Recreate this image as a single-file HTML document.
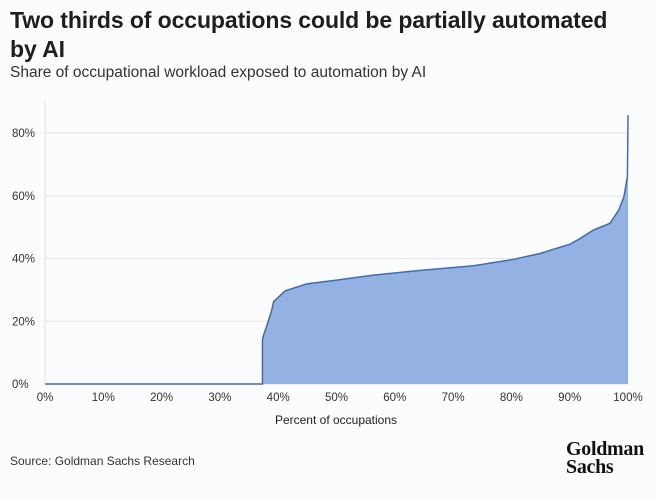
<!DOCTYPE html>
<html><head><meta charset="utf-8"><style>
body{margin:0;width:657px;height:500px;background:#fbfcfd;font-family:"Liberation Sans",sans-serif;overflow:hidden;position:relative}
#title{position:absolute;left:10px;top:6px;font-size:23px;font-weight:bold;color:#1e1e1e;line-height:29px;width:625px;letter-spacing:-0.1px}
#sub{position:absolute;left:10px;top:64px;font-size:15.5px;color:#333}
#src{position:absolute;left:10px;top:454px;font-size:12px;color:#333}
#logo{position:absolute;left:566px;top:440px;font-family:"Liberation Serif",serif;font-weight:bold;font-size:20px;line-height:18px;color:#111;letter-spacing:-0.3px}
svg{position:absolute;left:0;top:0}
</style></head><body>
<div id="title">Two thirds of occupations could be partially automated by AI</div>
<div id="sub">Share of occupational workload exposed to automation by AI</div>
<svg id="chart" width="657" height="500"></svg>
<div id="src">Source: Goldman Sachs Research</div>
<div id="logo">Goldman<br>Sachs</div>
<script>
const xs=[0,37.3,37.3,37.5,38.0,38.9,39.2,41.2,44.9,50.0,56.3,63.7,73.5,80.3,84.9,90.1,91.8,94.1,96.9,98.4,99.3,99.9,100];
const ys=[0,0,14,15.6,18.3,23.6,26.2,29.7,31.9,33.1,34.7,36.1,37.7,39.7,41.6,44.6,46.4,49.1,51.2,55.4,59.7,66.1,85.7];
const yTicks=[0,20,40,60,80];
const xTicks=[0,10,20,30,40,50,60,70,80,90,100];
const NS="http://www.w3.org/2000/svg";
const svg=document.getElementById('chart');
const X=v=>45+v*5.83, Y=v=>384-v*3.1375;
function mk(t,a){const e=document.createElementNS(NS,t);for(const k in a)e.setAttribute(k,a[k]);svg.appendChild(e);return e;}
yTicks.forEach(t=>{
 const l=mk('line',{x1:45,x2:628,y1:Y(t),y2:Y(t),stroke:'#e3e5ea','stroke-width':1});
 
 
 const tx=mk('text',{x:12,y:Y(t)+4,'font-size':11.5,fill:'#333','font-family':'Liberation Sans'});
 tx.textContent=t+'%';
 
 
});
const ax=mk('line',{x1:45,x2:45,y1:100,y2:384,stroke:'#e3e5ea'});


let d='M'+X(xs[0])+','+Y(0);
xs.forEach((x,i)=>d+=' L'+X(x)+','+Y(ys[i]));
const area=mk('path',{d:d+' L'+X(100)+','+Y(0)+'Z',fill:'#93b1e3'});


const line=mk('path',{d:d,fill:'none',stroke:'#4a6aa0','stroke-width':1.5});


xTicks.forEach(t=>{
 const tx=mk('text',{x:X(t),y:401,'font-size':11.5,fill:'#333','text-anchor':'middle','font-family':'Liberation Sans'});
 tx.textContent=t+'%';
 
 
});
const xt=mk('text',{x:336,y:424,'font-size':12,fill:'#222','text-anchor':'middle','font-family':'Liberation Sans'});
xt.textContent='Percent of occupations';


</script>
</body></html>
